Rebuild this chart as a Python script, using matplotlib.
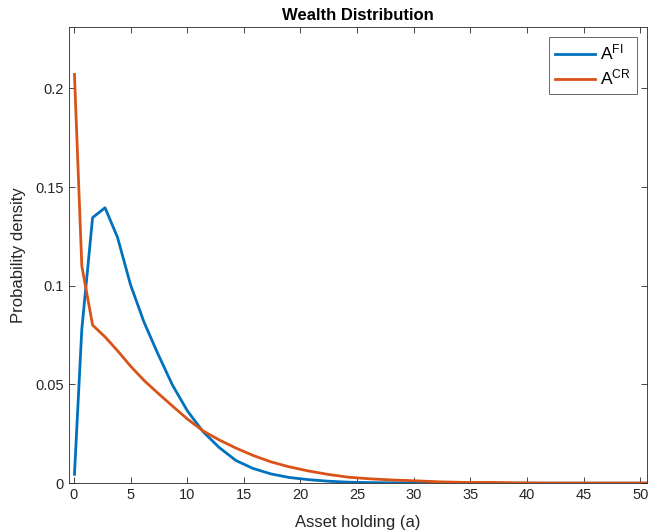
import matplotlib
matplotlib.use("Agg")
import matplotlib.pyplot as plt

plt.rcParams["font.family"] = ["Liberation Sans", "DejaVu Sans"]
plt.rcParams["mathtext.fontset"] = "custom"
plt.rcParams["mathtext.rm"] = "Liberation Sans"

# asset grid and densities
a_grid = [0.05, 0.7, 1.65, 2.75, 3.85, 5.0, 6.2, 7.4, 8.7, 10.0, 11.4, 12.8,
          14.3, 15.8, 17.4, 19.0, 20.7, 22.5, 24.3, 26.2, 28.2, 30.2, 32.3,
          34.5, 36.8, 39.1, 41.5, 44.0, 46.5, 49.0, 50.56]
dens_fi = [0.0045, 0.078, 0.1345, 0.1395, 0.1245, 0.1005, 0.0814, 0.0657,
           0.0497, 0.0368, 0.0261, 0.0182, 0.0115, 0.0075, 0.0047, 0.0029,
           0.0018, 0.0010, 0.0005, 0.0003, 0.0002, 0.0001, 0.0001, 0.0001,
           0.0, 0.0, 0.0, 0.0, 0.0, 0.0, 0.0]
dens_cr = [0.207, 0.110, 0.0801, 0.0741, 0.0671, 0.0593, 0.0520, 0.0457,
           0.0391, 0.0326, 0.0265, 0.0220, 0.0178, 0.0141, 0.0108, 0.0083,
           0.0062, 0.0044, 0.0030, 0.0022, 0.0016, 0.0012, 0.0007, 0.0004,
           0.0004, 0.0002, 0.0001, 0.0001, 0.0001, 0.0001, 0.0001]
labels = [r"$\mathregular{A^{FI}}$", r"$\mathregular{A^{CR}}$"]
x_ticks = list(range(0, 51, 5))
y_ticks = [0, 0.05, 0.1, 0.15, 0.2]
y_ticklabels = ["0", "0.05", "0.1", "0.15", "0.2"]

AX_COL = "#262626"

fig = plt.figure(figsize=(6.5, 5.31), dpi=100)
ax = fig.add_axes([0.106, 0.09, 0.889, 0.859])
ax.plot(a_grid, dens_fi, color="#0072BD", lw=2, label=labels[0])
ax.plot(a_grid, dens_cr, color="#D95319", lw=2, label=labels[1])

ax.set_xlim(-0.44, 50.56)
ax.set_ylim(0, 0.231)
ax.set_xticks(x_ticks)
ax.set_yticks(y_ticks)
ax.set_yticklabels(y_ticklabels)
ax.tick_params(direction="in", length=4, width=0.6, colors=AX_COL,
               labelsize=10.5, top=True, right=True)
for s in ax.spines.values():
    s.set_color(AX_COL)
    s.set_linewidth(0.6)

ax.set_xlabel("Asset holding (a)", fontsize=12, color=AX_COL, labelpad=9)
ax.set_ylabel("Probability density", fontsize=12, color=AX_COL, labelpad=7)
ax.set_title("Wealth Distribution", fontsize=12, fontweight="bold", pad=5)

leg = ax.legend(loc="upper right", fontsize=12.5, fancybox=False,
                edgecolor=AX_COL, handlelength=2.3, borderaxespad=0.55,
                labelspacing=0.3, handletextpad=0.3, borderpad=0.35)
leg.get_frame().set_linewidth(0.6)

fig.savefig("out.png", dpi=100, facecolor="white")
plt.close()
